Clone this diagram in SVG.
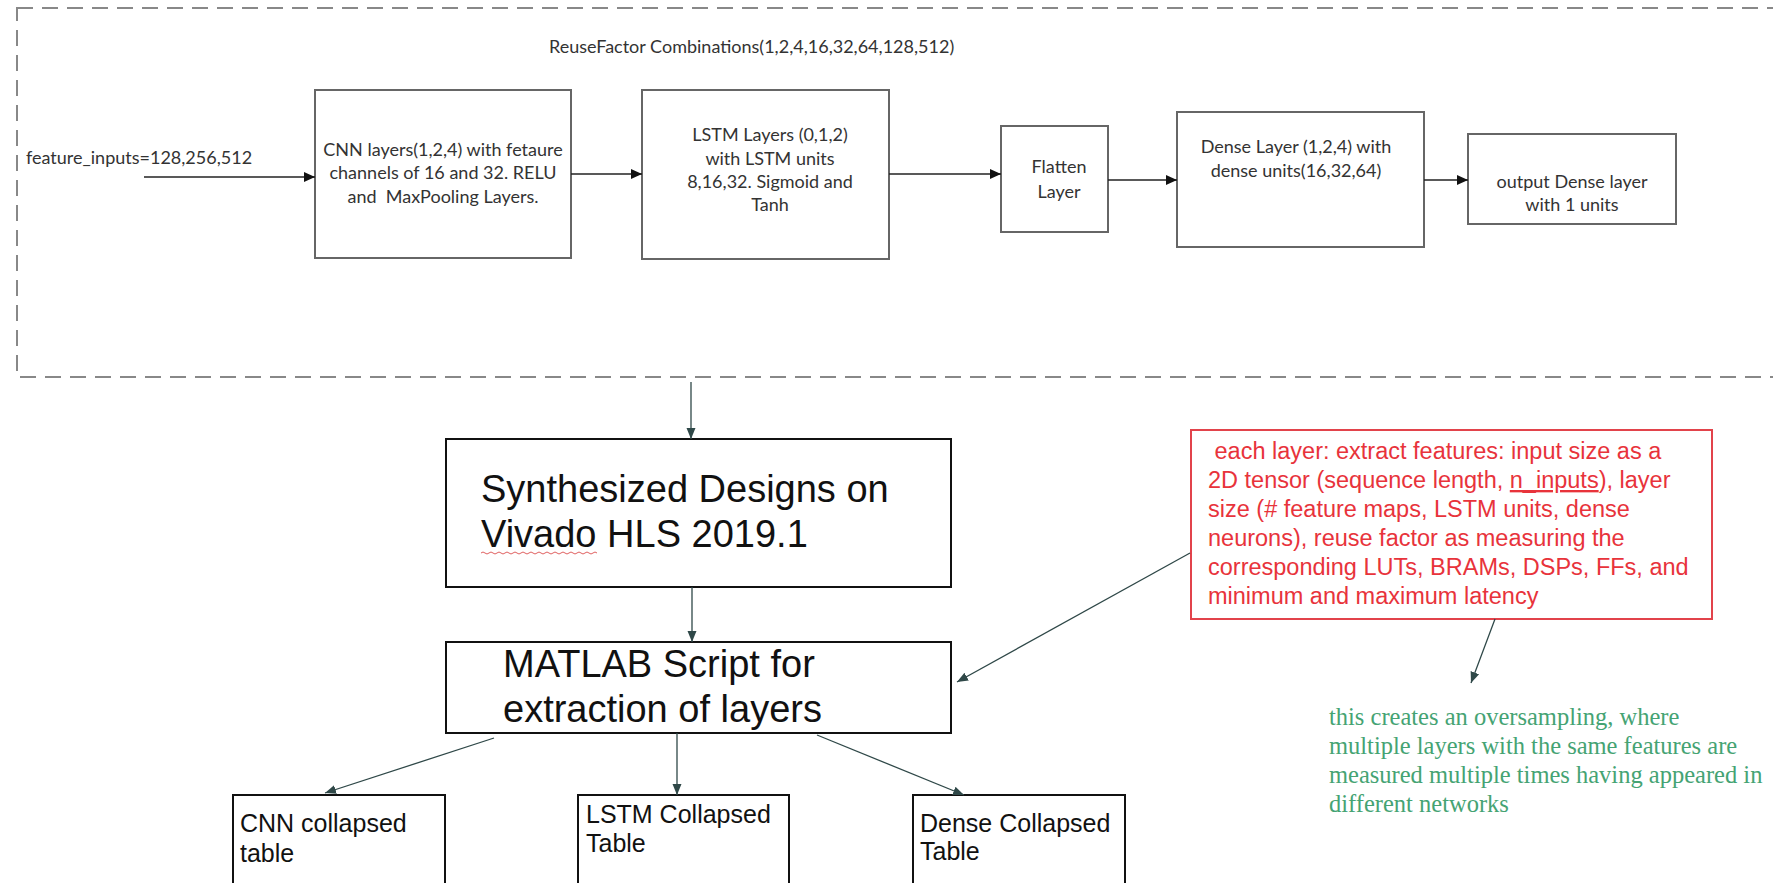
<svg xmlns="http://www.w3.org/2000/svg" width="1773" height="883" viewBox="0 0 1773 883">
<style>
.top{font-family:Lato,"Liberation Sans",sans-serif;font-size:18px;fill:#333}
.tb{fill:#fff;stroke:#666;stroke-width:2}
.bb{fill:#fff;stroke:#111;stroke-width:2}
.big{font-family:"Liberation Sans",Arial,sans-serif;font-size:38px;fill:#111}
.tab{font-family:"Liberation Sans",Arial,sans-serif;font-size:25px;fill:#111}
.red{font-family:"Liberation Sans",Arial,sans-serif;font-size:23.5px;fill:#e8333b}
.grn{font-family:"Liberation Serif","Times New Roman",serif;font-size:24.5px;fill:#45a373}
.c1{stroke:#222;stroke-width:1.6;fill:none}
.c2{stroke:#2f4848;stroke-width:1.3;fill:none}
</style>
<defs>
<marker id="ah1" markerUnits="userSpaceOnUse" markerWidth="12" markerHeight="12" viewBox="0 0 12 12" refX="11" refY="6" orient="auto"><path d="M0,1 L11,6 L0,11 z" fill="#111"/></marker>
<marker id="ah2" markerUnits="userSpaceOnUse" markerWidth="12" markerHeight="12" viewBox="0 0 12 12" refX="11" refY="6" orient="auto"><path d="M0,1.5 L11,6 L0,10.5 z" fill="#2f4848"/></marker>
</defs>
<rect width="1773" height="883" fill="#fff"/>
<g id="frame">
<rect x="17" y="8" width="1800" height="369" fill="none" stroke="#888" stroke-width="2" stroke-dasharray="16 9"/>
<text class="top" x="549" y="53">ReuseFactor Combinations(1,2,4,16,32,64,128,512)</text>
</g>
<g id="input-label"><text class="top" x="26" y="164">feature_inputs=128,256,512</text></g>
<g id="cnn">
<rect class="tb" x="315" y="90" width="256" height="168"/>
<text class="top" text-anchor="middle"><tspan x="443" y="156">CNN layers(1,2,4) with fetaure</tspan><tspan x="443" y="179">channels of 16 and 32. RELU</tspan><tspan x="443" y="203" xml:space="preserve">and  MaxPooling Layers.</tspan></text>
</g>
<g id="lstm">
<rect class="tb" x="642" y="90" width="247" height="169"/>
<text class="top" text-anchor="middle"><tspan x="770" y="141">LSTM Layers (0,1,2)</tspan><tspan x="770" y="165">with LSTM units</tspan><tspan x="770" y="188">8,16,32. Sigmoid and</tspan><tspan x="770" y="211">Tanh</tspan></text>
</g>
<g id="flatten">
<rect class="tb" x="1001" y="126" width="107" height="106"/>
<text class="top" text-anchor="middle"><tspan x="1059" y="173">Flatten</tspan><tspan x="1059" y="198">Layer</tspan></text>
</g>
<g id="dense">
<rect class="tb" x="1177" y="112" width="247" height="135"/>
<text class="top" text-anchor="middle"><tspan x="1296" y="153">Dense Layer (1,2,4) with</tspan><tspan x="1296" y="177">dense units(16,32,64)</tspan></text>
</g>
<g id="output">
<rect class="tb" x="1468" y="134" width="208" height="90"/>
<text class="top" text-anchor="middle"><tspan x="1572" y="188">output Dense layer</tspan><tspan x="1572" y="211">with 1 units</tspan></text>
</g>
<g id="synth">
<rect class="bb" x="446" y="439" width="505" height="148"/>
<text class="big"><tspan x="481" y="502">Synthesized Designs on</tspan><tspan x="481" y="547">Vivado HLS 2019.1</tspan></text>
<path d="M481,553 q2,-2 4,0 t4,0 t4,0 t4,0 t4,0 t4,0 t4,0 t4,0 t4,0 t4,0 t4,0 t4,0 t4,0 t4,0 t4,0 t4,0 t4,0 t4,0 t4,0 t4,0 t4,0 t4,0 t4,0 t4,0 t4,0 t4,0 t4,0 t4,0 t4,0" fill="none" stroke="#e06060" stroke-width="1"/>
</g>
<g id="matlab">
<rect class="bb" x="446" y="642" width="505" height="91"/>
<text class="big"><tspan x="503" y="677">MATLAB Script for</tspan><tspan x="503" y="722">extraction of layers</tspan></text>
</g>
<g id="cnn-table">
<rect class="bb" x="233" y="795" width="212" height="110"/>
<text class="tab"><tspan x="240" y="832">CNN collapsed</tspan><tspan x="240" y="862">table</tspan></text>
</g>
<g id="lstm-table">
<rect class="bb" x="578" y="795" width="211" height="110"/>
<text class="tab"><tspan x="586" y="823">LSTM Collapsed</tspan><tspan x="586" y="852">Table</tspan></text>
</g>
<g id="dense-table">
<rect class="bb" x="913" y="795" width="212" height="110"/>
<text class="tab"><tspan x="920" y="832">Dense Collapsed</tspan><tspan x="920" y="860">Table</tspan></text>
</g>
<g id="features-note">
<rect x="1191" y="430" width="521" height="189" fill="#fff" stroke="#e2434b" stroke-width="2"/>
<text class="red"><tspan x="1208" y="459" xml:space="preserve"> each layer: extract features: input size as a</tspan><tspan x="1208" y="488">2D tensor (sequence length, <tspan text-decoration="underline">n_inputs</tspan>), layer</tspan><tspan x="1208" y="517">size (# feature maps, LSTM units, dense</tspan><tspan x="1208" y="546">neurons), reuse factor as measuring the</tspan><tspan x="1208" y="575">corresponding LUTs, BRAMs, DSPs, FFs, and</tspan><tspan x="1208" y="604">minimum and maximum latency</tspan></text>
</g>
<g id="oversampling-note">
<text class="grn"><tspan x="1329" y="725">this creates an oversampling, where</tspan><tspan x="1329" y="754">multiple layers with the same features are</tspan><tspan x="1329" y="783">measured multiple times having appeared in</tspan><tspan x="1329" y="812">different networks</tspan></text>
</g>
<g id="connectors">
<line class="c1" x1="144" y1="177" x2="315" y2="177" marker-end="url(#ah1)"/>
<line class="c1" x1="571" y1="174" x2="642" y2="174" marker-end="url(#ah1)"/>
<line class="c1" x1="889" y1="174" x2="1001" y2="174" marker-end="url(#ah1)"/>
<line class="c1" x1="1108" y1="180" x2="1177" y2="180" marker-end="url(#ah1)"/>
<line class="c1" x1="1424" y1="180" x2="1468" y2="180" marker-end="url(#ah1)"/>
<line class="c2" x1="691" y1="382" x2="691" y2="439" marker-end="url(#ah2)"/>
<line class="c2" x1="692" y1="587" x2="692" y2="642" marker-end="url(#ah2)"/>
<line class="c2" x1="1190" y1="553" x2="957" y2="682" marker-end="url(#ah2)"/>
<line class="c2" x1="494" y1="738" x2="325" y2="793" marker-end="url(#ah2)"/>
<line class="c2" x1="677" y1="733" x2="677" y2="795" marker-end="url(#ah2)"/>
<line class="c2" x1="817" y1="735" x2="964" y2="795" marker-end="url(#ah2)"/>
<line class="c2" x1="1495" y1="619" x2="1471" y2="683" marker-end="url(#ah2)"/>
</g>
</svg>
